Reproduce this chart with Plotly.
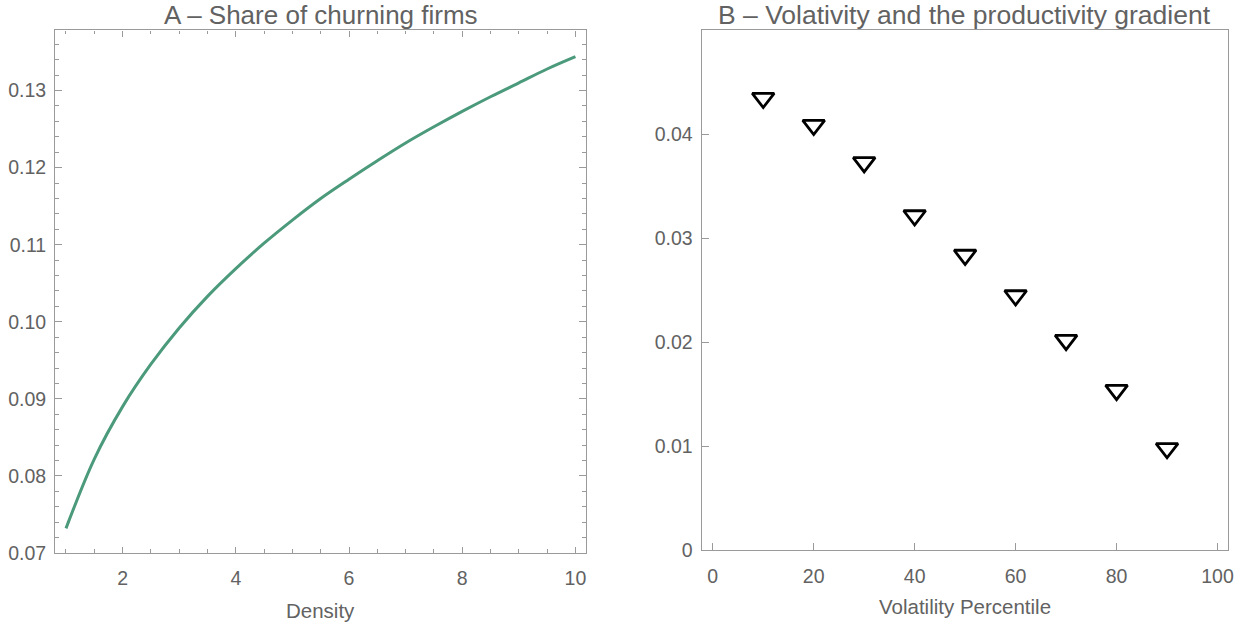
import plotly.graph_objects as go

# Panel A: share of churning firms vs density
density = [1.0, 1.5, 2.0, 2.5, 3.0, 3.5, 4.0, 4.5, 5.0, 5.5, 6.0, 6.5, 7.0, 7.5, 8.0, 8.5, 9.0, 9.5, 10.0]
churn_share = [0.0732, 0.0822, 0.0890, 0.0945, 0.0992, 0.1033, 0.1069, 0.1102, 0.1132, 0.1160,
               0.1185, 0.1209, 0.1232, 0.1253, 0.1273, 0.1292, 0.1310, 0.1328, 0.1344]

# Panel B: volatility percentile vs productivity gradient
vol_pct = [10, 20, 30, 40, 50, 60, 70, 80, 90]
gradient = [0.0435, 0.0409, 0.0373, 0.0322, 0.0284, 0.0245, 0.0202, 0.0154, 0.0098]

title_a = "A \u2013 Share of churning firms"
title_b = "B \u2013 Volativity and the productivity gradient"
xlabel_a = "Density"
xlabel_b = "Volatility Percentile"

FONT = "Liberation Sans, Arial, sans-serif"
TXT = "#626262"
AX = "#9a9a9a"
W, H = 1258, 628

fig = go.Figure()
fig.add_trace(go.Scatter(x=density, y=churn_share, mode="lines",
                         line=dict(color="rgb(76,154,124)", width=3, shape="spline", smoothing=1.0),
                         xaxis="x", yaxis="y", showlegend=False))
fig.add_trace(go.Scatter(x=vol_pct, y=gradient, mode="markers",
                         marker=dict(symbol="triangle-down-open", size=19, color="black",
                                     line=dict(color="black", width=2.8)),
                         xaxis="x2", yaxis="y2", showlegend=False))

axis_common = dict(showgrid=False, zeroline=False, showline=True, linecolor=AX, linewidth=1.3,
                   ticks="inside", tickcolor=AX, tickwidth=1.2,
                   tickfont=dict(family=FONT, size=19.5, color=TXT))

pa_l, pa_r, pa_t, pa_b = 55.5, 589, 31, 563
pb_l, pb_r, pb_t, pb_b = 705, 1234, 31, 560

fig.update_layout(
    width=W, height=H, margin=dict(l=0, r=0, t=0, b=0),
    paper_bgcolor="white", plot_bgcolor="white",
    xaxis=dict(axis_common, domain=[pa_l / W, pa_r / W], anchor="y",
               range=[0.81, 10.19], tick0=0, dtick=2, ticklen=6, mirror="allticks",
               ticklabelstandoff=7,
               minor=dict(dtick=0.5, tick0=0, ticklen=3.5, ticks="inside", tickcolor=AX, tickwidth=1.2)),
    yaxis=dict(axis_common, domain=[1 - pa_b / H, 1 - pa_t / H], anchor="x",
               range=[0.06999, 0.1378], tick0=0, dtick=0.01, tickformat=".2f", ticklen=7,
               mirror="allticks", ticklabelstandoff=4,
               minor=dict(dtick=0.002, tick0=0, ticklen=4, ticks="inside", tickcolor=AX, tickwidth=1.2)),
    xaxis2=dict(axis_common, domain=[pb_l / W, pb_r / W], anchor="y2",
                range=[-2.2, 102.1], tick0=0, dtick=20, ticklen=7, mirror=True,
                ticklabelstandoff=8),
    yaxis2=dict(axis_common, domain=[1 - pb_b / H, 1 - pb_t / H], anchor="x2",
                range=[0, 0.05], tickvals=[0, 0.01, 0.02, 0.03, 0.04],
                ticktext=["0", "0.01", "0.02", "0.03", "0.04"], ticklen=7, mirror=True,
                ticklabelstandoff=4),
)

annots = [
    dict(text=title_a, x=(pa_l + pa_r) / 2 / W, y=1 - 15 / H, size=26),
    dict(text=title_b, x=(pb_l + pb_r) / 2 / W, y=1 - 15 / H, size=26.5),
    dict(text=xlabel_a, x=(pa_l + pa_r) / 2 / W, y=1 - 621 / H, size=20.5),
    dict(text=xlabel_b, x=(pb_l + pb_r) / 2 / W, y=1 - 617 / H, size=20.5),
]
for a in annots:
    fig.add_annotation(text=a["text"], x=a["x"], y=a["y"], xref="paper", yref="paper",
                       xanchor="center", yanchor="middle", showarrow=False,
                       font=dict(family=FONT, size=a["size"], color=TXT))

fig.write_html("out.html")
